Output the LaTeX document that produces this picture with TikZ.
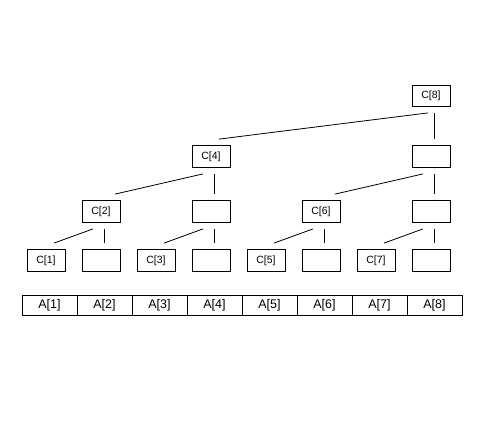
\documentclass[tikz,border=0pt]{standalone}
\usepackage{fontspec}
\setmainfont{Liberation Sans}
\usetikzlibrary{calc, math}

\tikzset{
cbox/.style={draw, minimum width=38pt, minimum height=22pt, inner sep=0pt, font=\fontsize{10.5}{12}\selectfont},
acell/.style={draw, minimum width=55pt, minimum height=20pt, inner sep=0pt, font=\fontsize{12.5}{14}\selectfont},
}

\begin{document}
\begin{tikzpicture}[x=1pt,y=-1pt,line width=0.8pt]
\tikzmath{
\g=6;
\yA=305;
\yB=260.5;
\yC=211.5;
\yD=156.5;
\yE=96;
}
\useasboundingbox (0,0) rectangle (504,432);

% array A
\foreach \i in {1,...,8}{
\node[acell] (a\i) at ({-5.5+55*\i},\yA) {A[\i]};
}

% bottom row
\node[cbox] (n01) at (46,\yB) {C[1]};
\node[cbox] (n02) at (101,\yB) {};
\node[cbox] (n03) at (156,\yB) {C[3]};
\node[cbox] (n04) at (211,\yB) {};
\node[cbox] (n05) at (266,\yB) {C[5]};
\node[cbox] (n06) at (321,\yB) {};
\node[cbox] (n07) at (376,\yB) {C[7]};
\node[cbox] (n08) at (431,\yB) {};

\node[cbox] (n12) at (101,\yC) {C[2]};
\node[cbox] (n14) at (211,\yC) {};
\node[cbox] (n16) at (321,\yC) {C[6]};
\node[cbox] (n18) at (431,\yC) {};

\node[cbox] (n24) at (211,\yD) {C[4]};
\node[cbox] (n28) at (431,\yD) {};

\node[cbox,minimum height=21pt] (n38) at (431,\yE) {C[8]};

% links
\draw ($(n12.south)+(-8,\g)$) -- ($(n01.north)+(8,-\g)$);
\draw ($(n12.south)+(3,\g)$) -- ($(n02.north)+(3,-\g)$);
\draw ($(n14.south)+(-8,\g)$) -- ($(n03.north)+(8,-\g)$);
\draw ($(n14.south)+(3,\g)$) -- ($(n04.north)+(3,-\g)$);
\draw ($(n16.south)+(-8,\g)$) -- ($(n05.north)+(8,-\g)$);
\draw ($(n16.south)+(3,\g)$) -- ($(n06.north)+(3,-\g)$);
\draw ($(n18.south)+(-8,\g)$) -- ($(n07.north)+(8,-\g)$);
\draw ($(n18.south)+(3,\g)$) -- ($(n08.north)+(3,-\g)$);

\draw ($(n24.south)+(-8,\g)$) -- ($(n12.north)+(14,-\g)$);
\draw ($(n24.south)+(3,\g)$) -- ($(n14.north)+(3,-\g)$);
\draw ($(n28.south)+(-8,\g)$) -- ($(n16.north)+(14,-\g)$);
\draw ($(n28.south)+(3,\g)$) -- ($(n18.north)+(3,-\g)$);

\draw ($(n38.south)+(-3,\g)$) -- ($(n24.north)+(8,-\g)$);
\draw ($(n38.south)+(3,\g)$) -- ($(n28.north)+(3,-\g)$);
\end{tikzpicture}
\end{document}
